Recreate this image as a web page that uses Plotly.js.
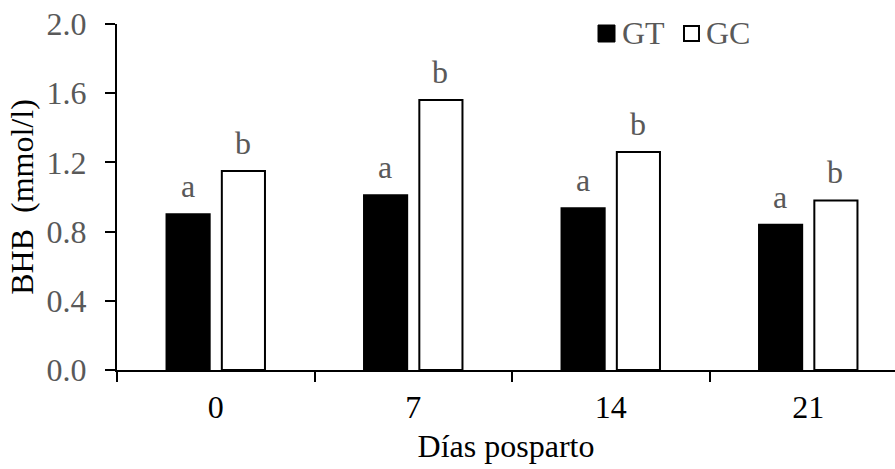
<!DOCTYPE html>
<html>
<head>
<meta charset="utf-8">
<script src="https://cdn.plot.ly/plotly-3.0.1.min.js"></script>
<style>
html, body { margin: 0; padding: 0; background: #fff; overflow: hidden; }
#chart { width: 895px; height: 469px; }
</style>
</head>
<body>
<div id="chart"></div>
<script>
const categories = ['0', '7', '14', '21'];
const gtValues = [0.90, 1.01, 0.935, 0.84];
const gcValues = [1.15, 1.56, 1.26, 0.98];
const gtLetters = ['a', 'a', 'a', 'a'];
const gcLetters = ['b', 'b', 'b', 'b'];
const yTickVals = [0, 0.4, 0.8, 1.2, 1.6, 2.0];
const seriesNames = ['GT', 'GC'];

const FONT = '"Liberation Serif", "Times New Roman", serif';
const GRAY = '#595959';
const FS = 32;

const traces = [
  {
    type: 'bar', name: seriesNames[0], x: categories, y: gtValues,
    marker: { color: '#000000', line: { color: '#000000', width: 2 } },
    showlegend: false, hoverinfo: 'x+y'
  },
  {
    type: 'bar', name: seriesNames[1], x: categories, y: gcValues,
    marker: { color: '#ffffff', line: { color: '#000000', width: 2 } },
    showlegend: false, hoverinfo: 'x+y'
  }
];

// significance letters above each bar, positioned by the data values (x = category index)
const letterAnnotations = [];
categories.forEach((c, i) => {
  letterAnnotations.push({ xref: 'x', yref: 'y', x: i, y: gtValues[i], xshift: -28, yshift: 8,
    yanchor: 'bottom', text: gtLetters[i], showarrow: false,
    font: { family: FONT, size: FS, color: GRAY } });
  letterAnnotations.push({ xref: 'x', yref: 'y', x: i, y: gcValues[i], xshift: 27, yshift: 8,
    yanchor: 'bottom', text: gcLetters[i], showarrow: false,
    font: { family: FONT, size: FS, color: GRAY } });
});

// legend drawn in paper coordinates
const L = 117, W = 778, B = 370, H = 346;
const px = v => (v - L) / W;
const py = v => (B - v) / H;

const layout = {
  width: 895, height: 469,
  margin: { l: 117, r: 0, t: 24, b: 99 },
  paper_bgcolor: '#ffffff', plot_bgcolor: '#ffffff',
  barmode: 'group', bargap: 0.44, bargroupgap: 0.22,
  font: { family: FONT, size: FS, color: '#000' },
  showlegend: false,
  xaxis: {
    type: 'category',
    range: [-0.5, -0.5 + 778 / 197.5],
    showline: true, linecolor: '#000', linewidth: 2,
    ticks: 'outside', tickson: 'boundaries', ticklen: 10, tickwidth: 2, tickcolor: '#000',
    ticklabelstandoff: 8,
    showgrid: false, zeroline: false,
    tickfont: { family: FONT, size: FS, color: '#000' },
    title: { text: 'Días posparto', font: { family: FONT, size: FS, color: '#000' }, standoff: 10 }
  },
  yaxis: {
    range: [0, 2.0], tickvals: yTickVals, tickformat: '.1f',
    showline: true, linecolor: '#000', linewidth: 2,
    ticks: 'outside', ticklen: 10, tickwidth: 2, tickcolor: '#000',
    ticklabelstandoff: 12,
    showgrid: false, zeroline: false,
    tickfont: { family: FONT, size: FS, color: GRAY },
    title: { text: 'BHB\u00a0 (mmol/l)', font: { family: FONT, size: FS, color: '#000' }, standoff: 3 }
  },
  shapes: [
    { type: 'rect', xref: 'paper', yref: 'paper', x0: px(598), x1: px(615), y0: py(42), y1: py(25),
      fillcolor: '#000', line: { color: '#000', width: 1 } },
    { type: 'rect', xref: 'paper', yref: 'paper', x0: px(684), x1: px(699), y0: py(41), y1: py(26),
      fillcolor: '#fff', line: { color: '#000', width: 2 } }
  ],
  annotations: letterAnnotations.concat([
    { xref: 'paper', yref: 'paper', x: px(620), y: py(33.5), xanchor: 'left', yanchor: 'middle',
      text: seriesNames[0], showarrow: false, font: { family: FONT, size: FS, color: GRAY } },
    { xref: 'paper', yref: 'paper', x: px(704), y: py(33.5), xanchor: 'left', yanchor: 'middle',
      text: seriesNames[1], showarrow: false, font: { family: FONT, size: FS, color: GRAY } }
  ])
};

Plotly.newPlot('chart', traces, layout, { displayModeBar: false, staticPlot: true });
</script>
</body>
</html>
